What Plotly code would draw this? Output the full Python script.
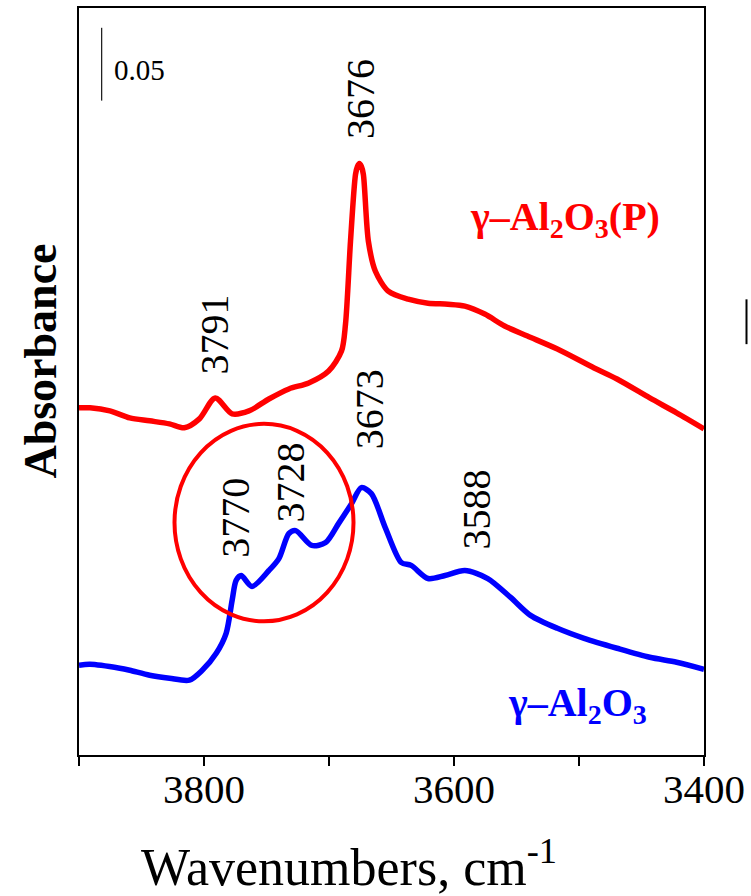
import plotly.graph_objects as go

# gamma-Al2O3(P) (red) spectrum
red_wn = [3900, 3891.2, 3875.3, 3859.4, 3843.5, 3827.6, 3815.7, 3803.7, 3791.0, 3777.5,
          3764.0, 3748.1, 3732.1, 3716.2, 3700.3, 3690.0, 3686.8, 3682.8, 3678.8, 3677.2,
          3675.7, 3674.1, 3672.5, 3668.5, 3662.9, 3652.6, 3636.7, 3620.8, 3604.9, 3591.3,
          3575.4, 3559.5, 3541.2, 3517.3, 3487.9, 3469.6, 3443.4, 3421.9, 3400]
red_abs = [0.2384, 0.2384, 0.2363, 0.2315, 0.2295, 0.2274, 0.2247, 0.2308, 0.2452, 0.2343,
           0.2363, 0.2445, 0.2514, 0.2555, 0.2637, 0.2774, 0.2959, 0.3528, 0.3987, 0.4042,
           0.4062, 0.4042, 0.3987, 0.3528, 0.3322, 0.3185, 0.3130, 0.3103, 0.3096, 0.3083,
           0.3028, 0.2946, 0.2877, 0.2788, 0.2658, 0.2582, 0.2452, 0.2350, 0.2240]

# gamma-Al2O3 (blue) spectrum
blue_wn = [3900, 3891.2, 3867.4, 3859.4, 3843.5, 3827.6, 3811.7, 3801.4, 3790.2, 3782.3,
           3777.5, 3774.3, 3770.3, 3761.6, 3748.1, 3740.1, 3732.1, 3726.6, 3713.8, 3702.7,
           3692.4, 3682.0, 3674.1, 3666.1, 3655.0, 3642.2, 3634.3, 3620.8, 3607.2, 3591.3,
           3573.0, 3554.7, 3538.8, 3517.3, 3495.9, 3469.6, 3443.4, 3421.9, 3400]
blue_abs = [0.0617, 0.0623, 0.0596, 0.0582, 0.0548, 0.0527, 0.0514, 0.0582, 0.0699, 0.0836,
            0.1062, 0.1199, 0.1233, 0.1158, 0.1267, 0.1349, 0.1521, 0.1541, 0.1439, 0.1459,
            0.1589, 0.1726, 0.1836, 0.1795, 0.1562, 0.1322, 0.1302, 0.1212, 0.1233, 0.1267,
            0.1212, 0.1082, 0.0959, 0.0870, 0.0801, 0.0733, 0.0671, 0.0637, 0.0589]

tick_vals = [3900, 3800, 3700, 3600, 3500, 3400]
tick_text = ["", "3800", "", "3600", "", "3400"]

peak_labels = ["3676", "3791", "3770", "3728", "3673", "3588"]
peak_x = [3674.9, 3791.8, 3774.3, 3730.5, 3667.7, 3581.8]
peak_y = [0.4507, 0.289, 0.163, 0.187, 0.2377, 0.1685]

FONT = "Liberation Serif"

fig = go.Figure()
fig.add_trace(go.Scatter(x=red_wn, y=red_abs, mode="lines",
                         line=dict(color="#ff0000", width=5.5, shape="spline", smoothing=0.8),
                         showlegend=False))
fig.add_trace(go.Scatter(x=blue_wn, y=blue_abs, mode="lines",
                         line=dict(color="#0000ff", width=5.5, shape="spline", smoothing=0.8),
                         showlegend=False))

annotations = []
for t, x, y in zip(peak_labels, peak_x, peak_y):
    annotations.append(dict(x=x, y=y, xref="x", yref="y", text=t, textangle=-90,
                            showarrow=False, font=dict(family=FONT, size=40, color="black")))

annotations += [
    dict(x=3511, y=0.368, xref="x", yref="y", text="<b>γ–Al<sub>2</sub>O<sub>3</sub>(P)</b>",
         showarrow=False, font=dict(family=FONT, size=40, color="#ff0000")),
    dict(x=3501.4, y=0.0343, xref="x", yref="y", text="<b>γ–Al<sub>2</sub>O<sub>3</sub></b>",
         showarrow=False, font=dict(family=FONT, size=40, color="#0000ff")),
    dict(x=3873.7, y=0.4706, xref="x", yref="y", text="0.05", xanchor="left",
         showarrow=False, font=dict(family=FONT, size=29, color="black")),
    dict(x=-0.062, y=0.527, xref="paper", yref="paper", text="<b>Absorbance</b>", textangle=-90,
         xanchor="center", yanchor="middle",
         showarrow=False, font=dict(family=FONT, size=46, color="black")),
    dict(x=0.4315, y=-0.192, xref="paper", yref="paper", text="Wavenumbers, cm<sup>-1</sup>",
         xanchor="center", yanchor="bottom",
         showarrow=False, font=dict(family=FONT, size=52, color="black")),
]

shapes = [
    dict(type="circle", xref="x", yref="y", x0=3823.6, x1=3680.4, y0=0.0918, y1=0.2274,
         line=dict(color="#ff0000", width=4)),
    dict(type="line", xref="x", yref="y", x0=3881.9, x1=3881.9, y0=0.4494, y1=0.4994,
         line=dict(color="#222222", width=1.3)),
    dict(type="line", xref="paper", yref="paper", x0=1.068, x1=1.068, y0=0.550, y1=0.610,
         line=dict(color="black", width=2)),
]

fig.update_layout(
    width=751, height=896,
    margin=dict(l=79, r=44, t=6, b=141),
    paper_bgcolor="white", plot_bgcolor="white",
    annotations=annotations, shapes=shapes,
    font=dict(family=FONT, color="black"),
)
fig.update_xaxes(range=[3900, 3400], tickvals=tick_vals, ticktext=tick_text,
                 ticks="outside", ticklen=9, tickwidth=2, tickcolor="black",
                 ticklabelstandoff=-12,
                 showline=True, linewidth=2, linecolor="black", mirror=True,
                 showgrid=False, zeroline=False,
                 tickfont=dict(family=FONT, size=41, color="black"))
fig.update_yaxes(range=[0, 0.513], showticklabels=False, ticks="",
                 showline=True, linewidth=2, linecolor="black", mirror=True,
                 showgrid=False, zeroline=False)

fig.write_html("out.html")
